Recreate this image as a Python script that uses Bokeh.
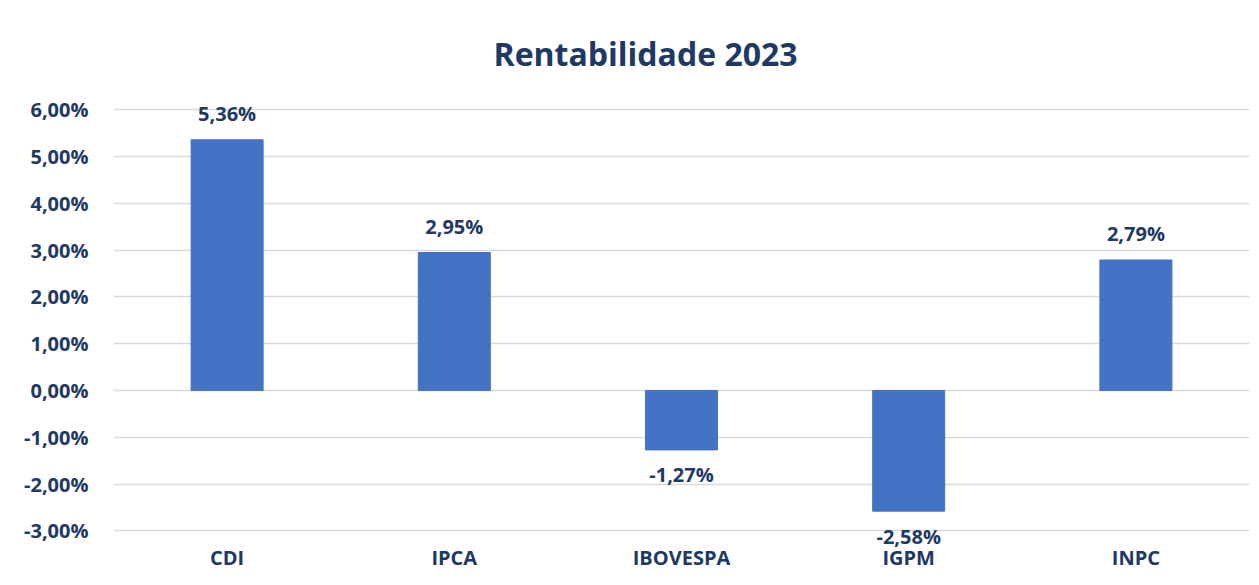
from bokeh.plotting import figure
from bokeh.models import ColumnDataSource, Range1d, FixedTicker, CustomJSTickFormatter, LabelSet
from bokeh.core.properties import value
from bokeh.embed import file_html
from bokeh.resources import INLINE

categories = ["CDI", "IPCA", "IBOVESPA", "IGPM", "INPC"]
values = [5.36, 2.95, -1.27, -2.58, 2.79]
y_ticks = [-3, -2, -1, 0, 1, 2, 3, 4, 5, 6]
title_text = "Rentabilidade 2023"

TEXT = "#203864"
FONT = "Open Sans"

labels = [("%.2f" % v).replace(".", ",") + "%" for v in values]
offsets = [26 if v >= 0 else -25 for v in values]
src = ColumnDataSource(dict(cat=categories, val=values, lab=labels, off=offsets))

p = figure(x_range=categories, y_range=Range1d(-3.4, 6.2), width=1259, height=585,
           output_backend="svg", toolbar_location=None, title=title_text,
           min_border_left=113, min_border_right=10, min_border_top=100, min_border_bottom=36)
p.title.align = "left"
p.title.offset = 380
p.title.standoff = 52
p.title.text_color = TEXT
p.title.text_font = FONT
p.title.text_font_size = "32px"
p.title.text_font_style = "bold"
p.outline_line_color = None
p.background_fill_color = "white"
p.border_fill_color = "white"

p.vbar(x="cat", top="val", bottom=0, width=0.317, source=src, color="#4472C4")

p.yaxis.ticker = FixedTicker(ticks=y_ticks)
p.yaxis.formatter = CustomJSTickFormatter(code="return tick.toFixed(2).replace('.', ',') + '%';")
for ax in (p.xaxis[0], p.yaxis[0]):
    ax.axis_line_color = None
    ax.major_tick_line_color = None
    ax.minor_tick_line_color = None
    ax.major_label_text_color = TEXT
    ax.major_label_text_font = FONT
    ax.major_label_text_font_style = "bold"
p.yaxis.major_label_text_font_size = "20px"
p.yaxis.major_label_standoff = 19
p.xaxis.major_label_text_font_size = "20px"
p.xaxis.major_label_standoff = -12

p.xgrid.grid_line_color = None
p.ygrid.grid_line_color = "#D9D9D9"
p.ygrid.grid_line_width = 1.5

ls = LabelSet(x="cat", y="val", text="lab", y_offset="off", source=src,
              text_align="center", text_baseline="middle", text_color=TEXT,
              text_font=value(FONT), text_font_size=value("20px"), text_font_style="bold")
p.add_layout(ls)

open("out.html", "w").write(file_html(p, INLINE))
